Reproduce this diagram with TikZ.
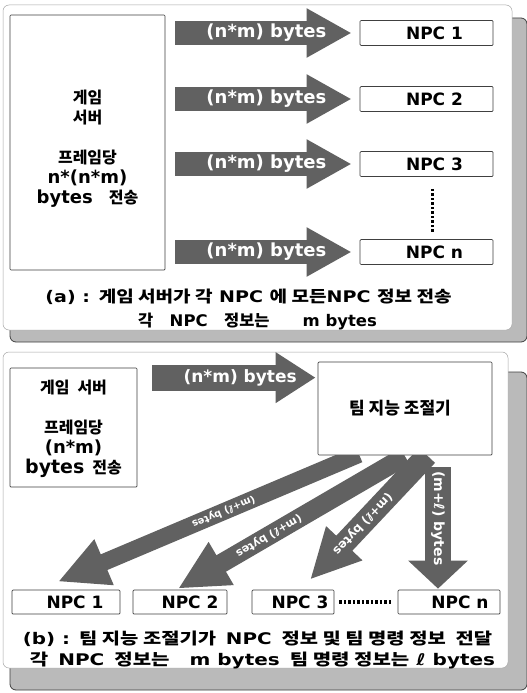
\documentclass[tikz,border=0pt]{standalone}
\usepackage{fontspec}
\setmainfont{DejaVu Sans}
\newfontfamily\kr{Noto Sans CJK KR}
\usetikzlibrary{arrows.meta,calc}
\pgfdeclarelayer{bg}
\pgfdeclarelayer{mid}
\pgfsetlayers{bg,mid,main}
\begin{document}
\begin{tikzpicture}[x=1pt,y=-1pt,
  shadowband/.style={fill=black!27, draw=black!75, line width=0.8pt, rounded corners=6pt},
  panel/.style={fill=white, draw=black!35, line width=0.5pt, rounded corners=6pt},
  box/.style={draw=black!75, line width=0.7pt, fill=white, rounded corners=1pt, inner sep=0pt},
  npc/.style={box, minimum height=25pt, font=\fontsize{17}{18}\selectfont\bfseries},
  bigtxt/.style={font=\fontsize{16}{20}\selectfont\bfseries, align=center, inner sep=0pt},
  arrowA/.style={draw=black!62, line width=24pt, -{Triangle[width=46pt,length=45pt]}},
  arrowB/.style={draw=black!62, line width=26pt, -{Triangle[width=48pt,length=40pt]}},
  arrowV/.style={draw=black!62, line width=26pt, -{Triangle[width=58pt,length=28pt]}},
  arrowD/.style={draw=black!62, line width=#1, -{Triangle[width=46pt,length=50pt]}},
  arrowlbl/.style={text=white, font=\fontsize{18}{18}\selectfont\bfseries, inner sep=0pt},
  dlbl/.style={text=white, font=\fontsize{#1}{12}\selectfont\bfseries, inner sep=0pt, sloped, allow upside down},
  dotsV/.style={line width=3.5pt, dash pattern=on 2.5pt off 2pt},
  captxt/.style={font=\fontsize{16}{18}\selectfont\bfseries, inner sep=0pt}
]
\useasboundingbox (0,0) rectangle (527,693);
\begin{pgfonlayer}{bg}
\fill[white] (0,0) rectangle (527,693);
% panel (a) frame
\path[shadowband] (10,18) rectangle (527,342);
\path[panel] (3,5) rectangle (512,330);
% panel (b) frame
\path[shadowband] (10,372) rectangle (527,690);
\path[panel] (3,352) rectangle (508,668);
\end{pgfonlayer}

% ---------------- panel (a)
\node[box, minimum width=155pt, minimum height=255pt] (gs) at (87.5,142.5) {};
\node[bigtxt] (gst) at ($(gs.center)+(0,6)$) {{\kr 게임}\\{\kr 서버}\\[20pt]{\kr 프레임당}\\{\fontsize{18}{20}\selectfont n*(n*m)}\\{\fontsize{18}{20}\selectfont bytes}\quad{\kr 전송}};

\node[npc, minimum width=133pt] (n1) at (426.5,33) {\hspace*{16pt}NPC 1};
\node[npc, minimum width=133pt] (n2) at (426.5,99) {\hspace*{16pt}NPC 2};
\node[npc, minimum width=133pt] (n3) at (426.5,164) {\hspace*{16pt}NPC 3};
\node[npc, minimum width=133pt] (nn) at (426.5,252) {\hspace*{16pt}NPC n};

\draw[arrowA, shorten <=10pt, shorten >=8pt] (gs.east |- n1.west) -- node[arrowlbl, pos=0.52] (l1) {(n*m) bytes} (n1.west);
\draw[arrowA, shorten <=10pt, shorten >=8pt] (gs.east |- n2.west) -- node[arrowlbl, pos=0.52] (l2) {(n*m) bytes} (n2.west);
\draw[arrowA, shorten <=10pt, shorten >=8pt] (gs.east |- n3.west) -- node[arrowlbl, pos=0.52] (l3) {(n*m) bytes} (n3.west);
\draw[arrowA, shorten <=10pt, shorten >=8pt] (gs.east |- nn.west) -- node[arrowlbl, pos=0.52] (l4) {(n*m) bytes} (nn.west);

\draw[dotsV] ($(n3.south)+(6,12)$) -- ($(nn.north)+(6,-6)$);

\node[captxt, xscale=1.19] (ca1) at (248.5,297) {(a) : {\kr 게임 서버가 각} NPC {\kr 에 모든}NPC {\kr 정보 전송}};
\node[captxt, xscale=1.03] (ca2) at (257.5,321) {{\kr 각}\quad NPC\quad{\kr 정보는}\qquad m bytes};

% ---------------- panel (b)
\node[box, minimum width=127pt, minimum height=119pt] (gs2) at (73.5,427.5) {};
\node[bigtxt] (gs2t) at ($(gs2.center)+(0,1)$) {{\kr 게임\enspace 서버}\\[20pt]{\kr 프레임당}\\{\fontsize{18}{20}\selectfont (n*m)}\\{\fontsize{19}{20}\selectfont bytes}\enspace{\kr 전송}};

\node[box, minimum width=174pt, minimum height=93pt, font=\fontsize{17}{18}\selectfont\bfseries] (tmc) at (405,408.5) {{\kr 팀 지능 조절기}\hspace*{10pt}};

\node[npc, minimum width=108pt, minimum height=24pt] (b1) at (66,602) {\hspace*{18pt}NPC 1};
\node[npc, minimum width=94pt, minimum height=24pt] (b2) at (180,602) {\hspace*{20pt}NPC 2};
\node[npc, minimum width=82pt, minimum height=24pt] (b3) at (293,602) {\hspace*{14pt}NPC 3};
\node[npc, minimum width=102pt, minimum height=24pt] (bn) at (449,602) {\hspace*{22pt}NPC n};

\coordinate (ab) at ($(tmc.north west)+(0,16)$);
\draw[arrowB, shorten <=15pt, shorten >=2pt] (gs2.east |- ab) -- node[arrowlbl, pos=0.57, font=\fontsize{17}{18}\selectfont\bfseries] (lb) {(n*m) bytes} (ab);

\coordinate (d1s) at ($(tmc.south)+(-46,-1)$);
\coordinate (d1e) at ($(b1.north)+(-8,-8)$);
\coordinate (d2s) at ($(tmc.south)+(0,1)$);
\coordinate (d2e) at ($(b2.north)+(-2,-1)$);
\coordinate (d3s) at ($(tmc.south)+(22,0)$);
\coordinate (d3e) at ($(b3.north)+(17,-10)$);
\coordinate (vt) at ($(tmc.south)+(33,12)$);
\coordinate (vb) at ($(bn.north)+(-11,-1)$);

\begin{pgfonlayer}{mid}
\draw[arrowD=17pt] (d1s) -- node[dlbl=10, pos=0.45] (ld1) {(m+ℓ) bytes} (d1e);
\draw[arrowD=19pt] (d2s) -- node[dlbl=11, pos=0.6] (ld2) {(m+ℓ) bytes} (d2e);
\draw[arrowD=22pt] (d3s) -- node[dlbl=12, pos=0.55] (ld3) {(m+ℓ) bytes} (d3e);
\end{pgfonlayer}
\draw[arrowV] (vt) -- node[dlbl=14, pos=0.42] (lv) {(m+ℓ) bytes} (vb);

\draw[dotsV] ($(b3.east)+(5,0)$) -- ($(bn.west)+(-5,0)$);

\node[captxt, xscale=1.24] (cb1) at (257.5,639) {(b) : {\kr 팀 지능 조절기가}\enspace NPC\enspace{\kr 정보 및 팀 명령 정보}\enspace{\kr 전달}};
\node[captxt, xscale=1.25] (cb2) at (262.5,660) {{\kr 각}\enspace NPC\enspace{\kr 정보는}\quad m bytes\enspace{\kr 팀 명령 정보는} ℓ bytes};
\end{tikzpicture}
\end{document}
